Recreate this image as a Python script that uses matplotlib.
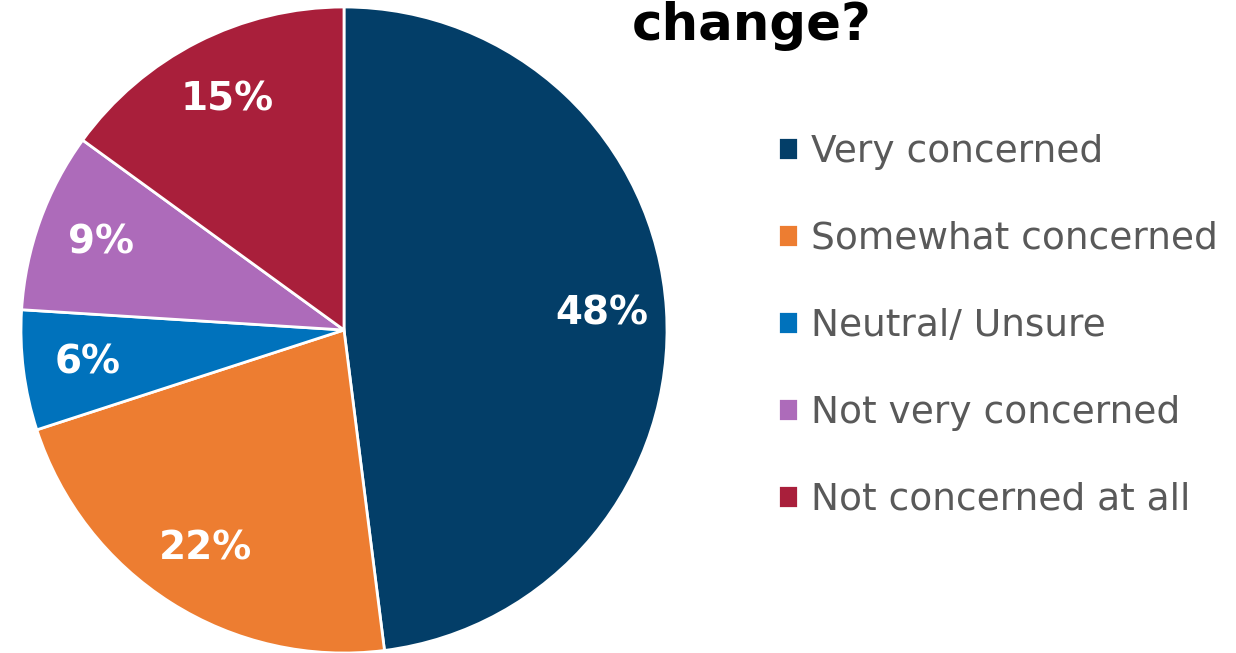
import matplotlib.pyplot as plt

labels = ["Very concerned", "Somewhat concerned", "Neutral/ Unsure",
          "Not very concerned", "Not concerned at all"]
shares = [48, 22, 6, 9, 15]
colors = ["#033E68", "#ED7D31", "#0072BC", "#AD6BBA", "#A91F3B"]

fig = plt.figure(figsize=(12.36, 6.53), dpi=100)
ax = fig.add_axes([21 / 1236, 0, 646 / 1236, 646 / 653])

wedges, texts, autotexts = ax.pie(
    shares, colors=colors, startangle=90, counterclock=False,
    autopct="%1.0f%%", pctdistance=0.8,
    wedgeprops=dict(edgecolor="white", linewidth=2),
    textprops=dict(color="white", fontsize=28, fontweight="bold"),
)
ax.set_xlim(-1, 1)
ax.set_ylim(-1, 1)

# only the last line of the title is visible in the crop
fig.text(0.511, 0.938, "change?", fontsize=37, fontweight="bold",
         ha="left", va="baseline")

fig.legend(wedges, labels, loc="upper left", bbox_to_anchor=(0.617, 0.818),
           frameon=False, fontsize=27, labelcolor="#595959",
           handlelength=0.55, handleheight=0.55, handletextpad=0.35,
           labelspacing=1.36, borderaxespad=0)

fig.savefig("out.png", dpi=100)
